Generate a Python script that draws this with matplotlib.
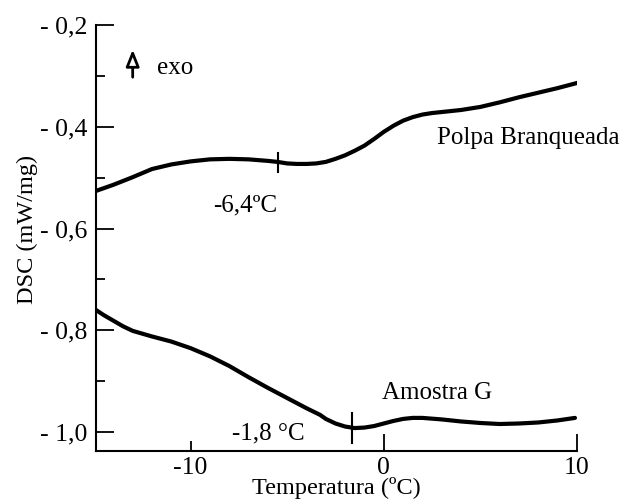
import matplotlib.pyplot as plt
import numpy as np

plt.rcParams['font.family'] = ['Liberation Serif', 'DejaVu Serif']

# Curva superior: polpa branqueada
temp_polpa = np.array([-14.9, -14.0, -13.0, -12.0, -11.0, -10.0, -9.0, -8.0, -7.0, -6.0,
                       -5.5, -5.0, -4.5, -4.0, -3.5, -3.0, -2.5, -2.0, -1.5, -1.0,
                       -0.5, 0.0, 0.5, 1.0, 1.5, 2.0, 2.5, 3.0, 4.0, 5.0,
                       6.0, 7.0, 8.0, 9.0, 10.2])
dsc_polpa = np.array([-0.526, -0.514, -0.499, -0.483, -0.474, -0.468, -0.464, -0.463, -0.464, -0.467,
                      -0.469, -0.472, -0.473, -0.473, -0.472, -0.469, -0.463, -0.456, -0.447, -0.437,
                      -0.424, -0.410, -0.398, -0.388, -0.381, -0.376, -0.373, -0.371, -0.367, -0.361,
                      -0.352, -0.342, -0.333, -0.324, -0.312])

# Curva inferior: amostra G
temp_amostra = np.array([-14.9, -14.5, -14.0, -13.5, -13.0, -12.0, -11.0, -10.0, -9.0, -8.0,
                         -7.0, -6.0, -5.0, -4.0, -3.3, -3.0, -2.5, -2.0, -1.5, -1.0,
                         -0.5, 0.0, 0.5, 1.0, 1.5, 2.0, 3.0, 4.0, 5.0, 6.0,
                         7.0, 8.0, 9.0, 9.9])
dsc_amostra = np.array([-0.760, -0.770, -0.781, -0.792, -0.801, -0.812, -0.822, -0.835, -0.851, -0.870,
                        -0.892, -0.913, -0.933, -0.953, -0.966, -0.974, -0.983, -0.989, -0.992, -0.991,
                        -0.988, -0.983, -0.978, -0.974, -0.972, -0.972, -0.975, -0.979, -0.982, -0.984,
                        -0.983, -0.981, -0.977, -0.972])

# Pontos de transição marcados (temperatura, valor, meia altura do traço)
tg_marks = [(-5.5, -0.470, 0.018), (-1.66, -0.992, 0.03)]

y_ticks = [-0.2, -0.4, -0.6, -0.8, -1.0]
y_labels = ['- 0,2', '- 0,4', '- 0,6', '- 0,8', '- 1,0']
y_minor = [-0.3, -0.5, -0.7, -0.9]
x_ticks = [-10, 0, 10]
x_labels = ['-10', '0', '10']

fig = plt.figure(figsize=(6.27, 5.04), dpi=100)
ax = fig.add_axes([0.1531, 0.1052, 0.767, 0.8452])

ax.plot(temp_polpa, dsc_polpa, color='black', lw=3, solid_capstyle='round', solid_joinstyle='round')
ax.plot(temp_amostra, dsc_amostra, color='black', lw=3, solid_capstyle='round', solid_joinstyle='round')

for t, v, h in tg_marks:
    ax.plot([t, t], [v - h, v + h], color='black', lw=1.5)

ax.set_xlim(-14.9, 10)
ax.set_ylim(-1.037, -0.2)

ax.spines['top'].set_visible(False)
ax.spines['right'].set_visible(False)
for s in ['left', 'bottom']:
    ax.spines[s].set_linewidth(1.5)

ax.set_yticks(y_ticks)
ax.set_yticklabels(y_labels)
ax.set_yticks(y_minor, minor=True)
ax.set_xticks(x_ticks)
ax.set_xticklabels(x_labels)
ax.tick_params(axis='y', which='major', direction='in', length=13, width=1.3, labelsize=18.5, pad=6)
ax.tick_params(axis='y', which='minor', direction='in', length=6.5, width=1.3)
ax.tick_params(axis='x', which='major', direction='in', length=12.5, width=1.3, labelsize=18.5, pad=4)
# o traço em -10 é mais curto no original
ax.xaxis.get_major_ticks()[0].tick1line.set_markersize(7.5)

ax.set_xlabel('Temperatura (ºC)', fontsize=17.5, labelpad=-1)
ax.set_ylabel('DSC (mW/mg)', fontsize=17.5)
ax.yaxis.set_label_coords(-0.12, 0.52)

ax.text(-7.2, -0.554, '-6,4ºC', fontsize=18, ha='center', va='center')
ax.text(-6.0, -1.002, '-1,8 °C', fontsize=18, ha='center', va='center')
ax.text(2.75, -0.923, 'Amostra G', fontsize=18, ha='center', va='center')
ax.text(2.74, -0.422, 'Polpa Branqueada', fontsize=18, ha='left', va='center')
ax.text(-11.75, -0.285, 'exo', fontsize=18, ha='left', va='center')
ax.annotate('', xy=(-13.0, -0.243), xytext=(-13.0, -0.308),
            arrowprops=dict(arrowstyle='-|>,head_width=0.4,head_length=1.0',
                            fc='white', ec='black', lw=2))

fig.savefig('out.png', dpi=100)
